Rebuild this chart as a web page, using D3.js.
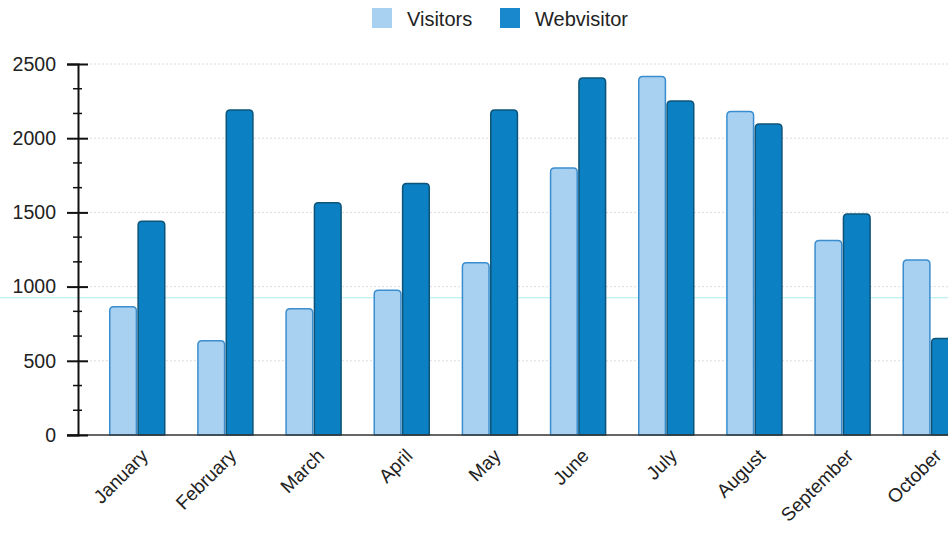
<!DOCTYPE html>
<html>
<head>
<meta charset="utf-8">
<script src="https://cdn.jsdelivr.net/npm/d3@7"></script>
<style>
  body { margin: 0; background: #fff; overflow: hidden; }
  text { font-family: "Liberation Sans", Arial, sans-serif; fill: #222; }
</style>
</head>
<body>
<div id="chart"></div>
<script>
// data
var months = ["January", "February", "March", "April", "May", "June", "July", "August", "September", "October"];
var seriesNames = ["Visitors", "Webvisitor"];
var visitors = [865, 635, 850, 975, 1160, 1800, 2415, 2180, 1310, 1180];
var webvisitor = [1440, 2190, 1565, 1695, 2190, 2405, 2250, 2095, 1490, 650];
var yTicks = [0, 500, 1000, 1500, 2000, 2500];

var fills = ["#a8d0f0", "#0b80c2"];
var strokes = ["#3a8ed0", "#0d5478"];

var width = 948, height = 536;
var plotLeft = 78, plotTop = 64, plotBottom = 435;

var svg = d3.select("#chart").append("svg")
	.attr("width", width)
	.attr("height", height);

var y = d3.scaleLinear().domain([0, 2500]).range([plotBottom, plotTop]);

var x = d3.scaleBand().domain(months)
	.range([plotLeft, 990])
	.paddingInner(0.376)
	.paddingOuter(0.36);

var x1 = d3.scaleBand().domain(seriesNames)
	.range([0, x.bandwidth()])
	.paddingInner(0.06);

// grid
svg.append("g").selectAll("line")
	.data(yTicks.slice(1))
	.enter().append("line")
	.attr("x1", plotLeft).attr("x2", width)
	.attr("y1", function(d) { return y(d); })
	.attr("y2", function(d) { return y(d); })
	.attr("stroke", "#dcdce2")
	.attr("stroke-dasharray", "2,2");

// faint scan line in the picture
svg.append("line")
	.attr("x1", 0).attr("x2", width)
	.attr("y1", y(925)).attr("y2", y(925))
	.attr("stroke", "#aeeef0").attr("stroke-width", 1);

// bars
var rows = months.map(function(m, i) { return { month: m, vals: [visitors[i], webvisitor[i]] }; });

function topRounded(x0, y0, w, h, r) {
	return "M" + x0 + "," + (y0 + h) +
		"V" + (y0 + r) +
		"Q" + x0 + "," + y0 + " " + (x0 + r) + "," + y0 +
		"H" + (x0 + w - r) +
		"Q" + (x0 + w) + "," + y0 + " " + (x0 + w) + "," + (y0 + r) +
		"V" + (y0 + h) + "Z";
}

var groups = svg.append("g").selectAll("g")
	.data(rows)
	.enter().append("g")
	.attr("transform", function(d) { return "translate(" + x(d.month) + ",0)"; });

groups.selectAll("path")
	.data(function(d) { return d.vals.map(function(v, k) { return { name: seriesNames[k], k: k, v: v }; }); })
	.enter().append("path")
	.attr("d", function(d) {
		return topRounded(x1(d.name), y(d.v), x1.bandwidth(), y(0) - y(d.v), 4);
	})
	.attr("fill", function(d) { return fills[d.k]; })
	.attr("stroke", function(d) { return strokes[d.k]; })
	.attr("stroke-width", 1.5);

// x axis line
svg.append("line")
	.attr("x1", 67).attr("x2", width)
	.attr("y1", plotBottom).attr("y2", plotBottom)
	.attr("stroke", "#333").attr("stroke-width", 1.5);

// y axis
var yAxis = d3.axisLeft(y).tickValues(yTicks).tickSize(11).tickPadding(12).tickFormat(d3.format("d"));
var ga = svg.append("g").attr("transform", "translate(" + plotLeft + ",0)").call(yAxis);
ga.select(".domain").attr("stroke", "#111").attr("stroke-width", 2);
ga.selectAll(".tick line").attr("stroke", "#111").attr("stroke-width", 2).attr("x2", 10).attr("x1", -11);
ga.selectAll(".tick text").style("font-size", "19.5px").attr("fill", "#222").attr("x", -22)
	.style("font-family", "'Liberation Sans', Arial, sans-serif");

// minor ticks
var minor = d3.range(0, 2500, 500 / 3).filter(function(v) { return v % 500 > 1 && v % 500 < 499; });
svg.append("g").selectAll("line")
	.data(minor)
	.enter().append("line")
	.attr("x1", plotLeft - 5).attr("x2", plotLeft + 4)
	.attr("y1", function(d) { return y(d); })
	.attr("y2", function(d) { return y(d); })
	.attr("stroke", "#111").attr("stroke-width", 1.5);

// month labels
svg.append("g").selectAll("text")
	.data(months)
	.enter().append("text")
	.attr("transform", function(d) {
		return "translate(" + (x(d) + x.bandwidth() / 2 + 12) + "," + (plotBottom + 22) + ") rotate(-45)";
	})
	.attr("text-anchor", "end")
	.style("font-size", "19px")
	.text(function(d) { return d; });

// legend
var legendX = [372, 500];
var lg = svg.append("g").selectAll("g")
	.data(seriesNames)
	.enter().append("g")
	.attr("transform", function(d, i) { return "translate(" + legendX[i] + ",8)"; });
lg.append("rect")
	.attr("width", 20).attr("height", 20)
	.attr("fill", function(d, i) { return i ? "#1a88cc" : "#a8d0f0"; });
lg.append("text")
	.attr("x", 35).attr("y", 18)
	.style("font-size", "20px")
	.text(function(d) { return d; });
</script>
</body>
</html>
